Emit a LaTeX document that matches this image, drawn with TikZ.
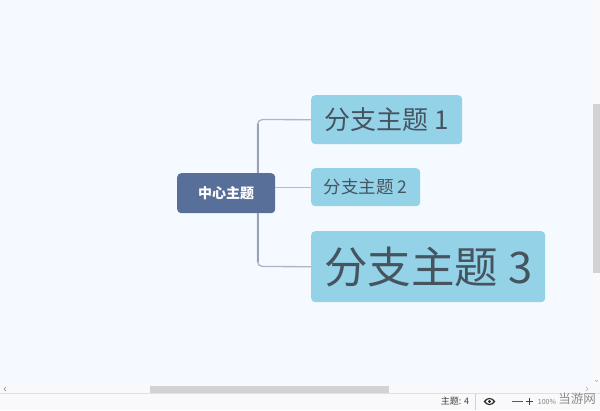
\documentclass[tikz,border=0pt]{standalone}
\usepackage{fontspec}
\setmainfont{Noto Sans CJK SC}
\definecolor{canvas}{HTML}{F4FAFF}
\definecolor{centerfill}{HTML}{587099}
\definecolor{branchfill}{HTML}{94D2E8}
\definecolor{branchtext}{HTML}{46545F}
\definecolor{linkcol}{HTML}{98A2B8}
\definecolor{barcol}{HTML}{F9F9FB}
\definecolor{thumb}{HTML}{D2D2D4}
\tikzset{
  branchbox/.style={fill=branchfill,rounded corners=4pt,inner sep=0pt,text=branchtext,anchor=north west},
  centerbox/.style={fill=centerfill,rounded corners=4pt,inner sep=0pt,text=white,font=\fontsize{14}{14}\selectfont\bfseries,anchor=north west},
  linkline/.style={draw=linkcol!80,line width=1.3pt,rounded corners=5pt},
  trunkline/.style={draw=linkcol,line width=2pt},
  thinlink/.style={draw=linkcol!75,line width=1.2pt}
}
\begin{document}
\begin{tikzpicture}[x=1pt,y=-1pt]
\useasboundingbox (0,0) rectangle (600,410);
\fill[canvas] (0,0) rectangle (600,410);
% scrollbars and status bar
\fill[barcol] (593,0) rectangle (600,392);
\fill[thumb] (593,104) rectangle (600,273);
\draw[black!30,line width=.6pt] (595,380) -- (596.5,381.5) -- (598,380);
\fill[barcol] (0,385.5) rectangle (592,393);
\fill[thumb] (150,385.5) rectangle (389,392.5);
\fill[barcol] (0,393) rectangle (600,410);
\draw[black!12,line width=.6pt] (0,392.8) -- (600,392.8);
\draw[black!18,line width=.6pt] (475,394) -- (475,410);
\draw[black!40,line width=.7pt] (6,387) -- (4,389) -- (6,391);
\draw[black!30,line width=.6pt] (586,387) -- (588,389) -- (586,391);
\node[text=black!75,font=\fontsize{9}{9}\selectfont] (count) at (455,401.5) {主题: 4};
\draw[black!85,line width=1.1pt] (484.5,401.5) .. controls (487,397.5) and (492,397.5) .. (494.5,401.5) .. controls (492,405.5) and (487,405.5) .. (484.5,401.5) -- cycle;
\fill[black!85] (489.5,401.5) circle (1.7pt);
\draw[black!65,line width=1pt] (512,401.5) -- (523,401.5);
\draw[black!75,line width=1pt] (526,401.5) -- (533,401.5) (529.5,398) -- (529.5,405);
\node[text=black!50,font=\fontsize{7}{7}\selectfont,inner sep=0pt] (pct) at (547,402) {100\%};
\node[text=black!45,font=\fontsize{12.5}{13}\selectfont,inner sep=0pt] (mark) at (577,399) {当游网};
% nodes
\node[centerbox,minimum width=98pt,minimum height=40pt] (c) at (177,173) {中心主题};
\node[branchbox,minimum width=151pt,minimum height=49pt] (b1) at (311,95) {\fontsize{26}{26}\selectfont 分支主题 1};
\node[branchbox,minimum width=109pt,minimum height=38pt] (b2) at (311,168) {\fontsize{17.5}{18}\selectfont 分支主题 2};
\node[branchbox,minimum width=234pt,minimum height=71pt] (b3) at (311,231) {\fontsize{43.5}{45}\selectfont 分支主题 3};
% connectors
\draw[linkline] (257.5,173) -- (257.5,119.5) -- (b1.west);
\draw[linkline] (257.5,213) -- (257.5,266.5) -- (b3.west);
\draw[trunkline] (257.5,173) -- (257.5,124);
\draw[trunkline] (257.5,213) -- (257.5,262);
\draw[thinlink] (c.east |- b2.west) -- (b2.west);
\end{tikzpicture}
\end{document}
